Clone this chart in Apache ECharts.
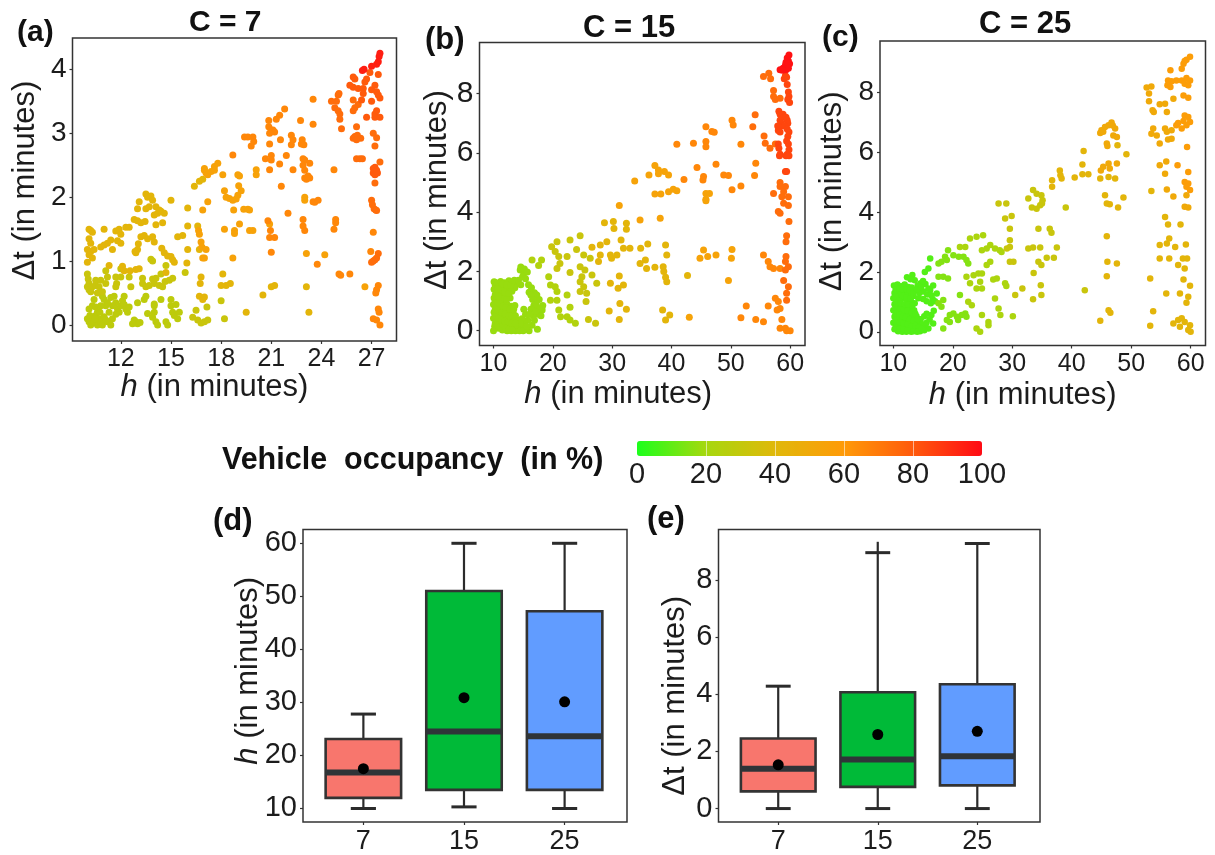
<!DOCTYPE html>
<html><head><meta charset="utf-8">
<script src="https://cdn.jsdelivr.net/npm/echarts@6/dist/echarts.min.js"></script>
<style>html,body{margin:0;padding:0;background:#fff}#c{width:1215px;height:855px}</style>
</head><body><div id="c"></div>
<script>
const a95=[[27.5,4.25],[27.45,4.2],[27.4,4.12],[27.3,4.08],[27,4.05],[26.55,4],[26.45,3.98]];
const a80=[[26.9,3.95],[27.4,3.92],[25.9,3.88],[26,3.85],[26.7,3.85],[26.6,3.8],[25.7,3.75],[25.9,3.72],[26.2,3.7],[26.5,3.7],[26.5,3.62],[27.2,3.75],[27,3.68],[27.3,3.65],[27.5,3.55],[27.4,3.6],[27.3,3.35],[27.2,3.3],[27.2,3.25],[27.5,3.25],[27,3.5],[26.7,3.25],[26.4,3.52],[27.2,2.47],[27.1,2.45],[27.3,2.42],[27.35,2.38],[27.1,2.38],[27.2,2.35],[27.3,2.4]];
const a74=[[24.6,3.5],[24.9,3.5],[25,3.6],[25.05,3.62],[24.8,3.4],[25,3.35],[25.1,3.3],[25.1,3.22],[25.2,3.07],[25.9,3.52],[26,3.4],[26.2,3.45],[25.9,3.35],[26.1,3.1],[26.35,2.92],[25.9,2.92],[26,2.95],[26.15,2.97],[26.1,2.9],[27.1,3],[27.3,2.93],[27.2,2.8],[26.1,2.6],[26.3,2.6],[26.45,2.6],[27.5,2.55],[27.2,2.22],[27,1.95],[27.05,1.88],[27.15,1.82],[27.25,1.8],[27.3,1.79],[27.4,1.12],[27.3,1.05],[27.2,1.02],[27.1,1],[27,0.98]];
const a66=[[24.75,2.43],[27.1,1.45],[26.95,1.15],[27.4,0.62],[27.3,0.55],[27.25,0.5],[27.4,0.25],[27.45,0.2],[27.1,0.1],[27.3,0.08],[27.5,0],[24.85,1.65],[24.85,1.6],[24.75,1.5],[25.05,0.8],[25.15,0.78],[25.7,0.8],[23.75,0.95],[23.5,3.53],[23.5,3.14],[22.75,3.2],[21.8,3.38],[21.5,3.28],[21.3,3.22],[20.85,3.2],[20.85,3.1],[21,3.05],[21.1,3.05],[21.2,3.02],[20.9,3],[22.2,2.97],[22.3,2.9],[21.55,2.9],[22.85,2.9],[22.8,2.83],[22.2,2.82],[22.95,2.82],[20.9,2.83],[21.9,2.65],[22.9,2.6],[23,2.58],[20.65,2.6],[21,2.65],[21,2.58],[20.9,2.43],[21.5,2.52],[22.3,2.43],[22.9,2.5],[23,2.42],[23.3,2.53],[23,2.3],[23.1,2.28],[23.3,2.3],[23.2,2.33],[21.6,2.17],[23.5,1.93],[23.6,1.92],[23.8,1.95],[22,1.75],[22.9,1.65],[22.9,1.55],[23,1.48],[20.8,1.63],[20.95,1.48],[20.9,1.37],[21.2,1.37],[21,1.14],[19.4,2.94],[19.6,2.94],[19.9,2.94],[19.95,2.87],[19.8,2.8],[18.7,2.66]];
const a55=[[26.6,0.6],[24.2,1.1],[23.1,1.12],[23,2],[23,1.95],[20.9,1.58],[20.1,2.43],[20.1,2.35],[19,2.35],[19.1,2.33],[19.05,2.18],[18.1,2.35],[18.2,2.1],[19.2,2.1],[19,2.03],[18.9,1.97],[18.3,2],[18.5,1.98],[18.7,1.95],[18.75,1.8],[19.35,1.81],[19.6,1.81],[19.7,1.8],[19.1,1.58],[18.2,1.5],[18.8,1.48],[18.8,1.43],[19.7,1.48],[19.9,1.48],[18.7,1.05],[17,2.45],[17,2.42],[17.1,2.38],[17.2,2.35],[17.4,2.4],[17.6,2.48],[17.8,2.53],[17.6,2.42],[16.9,1.8],[17.2,1.93],[16.65,1.48],[16.7,1.42],[16.8,1.3],[16.85,1.22],[17.1,1.18],[16.9,1.05],[17,1.05]];
const a42=[[23.1,0.6],[23.25,0.2],[21,0.6],[21.2,0.62],[20.5,0.47],[19.5,0.2],[18.1,0.8],[18.55,0.65],[18,0.62],[18.3,0.62],[16.4,2.17],[16.7,2.25],[16.9,2.28],[16,1.83],[16,1.55],[16.6,1.55],[16.7,1.18],[16,1.18],[15.95,0.97],[16.8,0.75],[16.75,0.65],[16.7,0.45],[16.9,0.4],[17,0.44],[10.1,1.5],[10.2,1.48],[10.3,1.45],[10.1,1.35],[10.2,1.28],[11,1.5],[11.7,1.47],[11.9,1.5],[12.3,1.53],[12.5,1.53],[12,1.42],[12.8,1.65],[13,1.63],[13.2,1.6],[13.45,1.62],[14,1.72],[14.2,1.75],[14.4,1.78],[14.6,1.75],[14.1,1.57],[14.5,1.6],[15,1.95],[13.1,1.93],[13,1.82],[13.5,1.82],[13.5,2.05],[13.6,2],[13.8,2.02],[13.9,1.95],[13.7,1.85],[14.1,1.85],[14.3,1.8],[10.2,1.15],[10.1,1.1],[10.3,1.05],[10,1.18],[10.4,1.18],[10,0.98],[10.8,1.22],[11,1.25],[11.2,1.28],[11.4,1.33],[11.8,1.32],[12,1.28],[11.5,1.18],[13.2,1.38],[13.4,1.4],[13.6,1.35],[13.9,1.38],[14,1.3],[13.05,1.27],[13,1.18],[12.9,1.13],[12.85,1.15],[14.45,1.2],[14.6,1.13],[14.8,1.08],[15,1.07],[15.1,1.02],[15.2,0.98],[15.4,1.38],[15.7,1.4],[11.3,0.93],[12.1,0.92],[12.2,0.85],[12.55,0.85],[12.9,0.87],[13.1,0.88],[14.7,0.82]];
const a32=[[18,0.38],[18.2,0.1],[17.15,0.28],[16.5,0.23],[16.3,0.12],[16.6,0.08],[16.8,0.03],[17,0.05],[17.2,0.08],[15.85,0.82],[13.8,1.03],[13.9,1],[10,0.8],[10.05,0.72],[10.1,0.65],[10,0.6],[10.1,0.55],[10.3,0.6],[10.5,0.62],[10.7,0.6],[10.2,0.52],[10.6,0.5],[10.9,0.52],[11.1,0.65],[11.2,0.75],[11.1,0.85],[12,0.88],[11.7,0.75],[11.75,0.65],[11.7,0.6],[12.6,0.6],[12,0.75],[12.5,0.75],[13.3,0.73],[13.3,0.65],[13.5,0.6],[13.7,0.62],[13.9,0.72],[14,0.65],[14.1,0.73],[14.3,0.62],[14.5,0.6],[14.65,0.68],[14.9,0.7],[15.1,0.73],[14.4,0.8],[14.7,0.93],[10.5,0.7],[10.8,0.7]];
const a28=[[10,0.1],[10.1,0.05],[10.2,0],[10.3,0.12],[10.4,0.05],[10.5,0.15],[10.6,0],[10.7,0.1],[10.8,0.05],[10.9,0],[11,0.13],[11.2,0.05],[11.4,0],[11.5,0.1],[10.1,0.25],[10.3,0.3],[10.5,0.28],[10.6,0.2],[11,0.4],[11.1,0.3],[11.2,0.35],[11.4,0.43],[11.6,0.45],[11.7,0.35],[11.8,0.25],[11.9,0.2],[12,0.3],[12.1,0.38],[12.2,0.32],[12.3,0.25],[12.4,0.2],[12.2,0.45],[11.7,0.17],[12.8,0.08],[12.9,0.05],[13,0.02],[12.7,0.02],[13.15,0.04],[13,0.35],[13.4,0.4],[13.6,0.18],[13.5,0.45],[14,0.3],[14,0.33],[14.4,0.4],[14,0.2],[13.9,0.12],[14.1,0.05],[14.2,0],[14.7,0.05],[14.8,0],[15,0.4],[15,0.3],[15.1,0.2],[15.2,0.15],[15.3,0.32],[15.4,0.1],[15.5,0.2],[10.15,0.15],[10.45,0.1],[10.75,0.2],[11.1,0.08],[11.3,0.2],[10.8,0.3],[10.4,0.4],[10.9,0.45],[12.5,0.28],[11.5,0.3]];

// ---- panel (b) C = 15
const b98=[[59.8,9.3],[59.5,9.2],[59.7,9.1],[59.3,9.05],[59.9,9],[59.2,8.95],[59.6,9],[58.8,8.85],[59.3,8.8],[59.7,8.85],[58.3,8.8],[58.7,8.78]];
const b85=[[59,8.5],[59.2,8.6],[59.4,8.55],[59.5,8.3],[59.7,8.05],[59.8,7.9],[59.6,7.8],[59.9,7.7],[58.1,7.4],[58.3,7.3],[58.5,7.25],[58.8,7.3],[59,7.2],[59.3,7.2],[59.5,7.1],[59.6,7],[58.3,7.1],[58.5,7],[58.4,6.9],[59,6.9],[59.5,6.8],[59.8,6.7],[59.6,6.55],[59.4,6.4],[59.7,6.3],[59.8,6.1],[59.5,5.95],[59.3,5.9],[59.8,5.9],[58.2,5.9],[58,6.3],[58.1,6.15],[57.9,6.9],[58,6.75],[58.3,6.7],[58.3,5.95],[59.2,5.37],[59.4,5.37]];
const b74=[[55.5,8.57],[56.4,8.68],[56.7,8.5],[57.2,7.9],[57.5,7.8],[58.3,7.84],[57.2,8.1],[54.1,7.28],[53.7,6.88],[55.6,6.57],[55.8,6.32],[56.6,6.15],[57.5,6.3],[58.3,5],[59.2,4.86],[58.3,4.86],[58.9,4.69],[57.2,4.63],[58.6,4.52],[59.7,4.52],[58.9,4.3],[59.7,4.22],[58,4.02],[58.3,3.96],[59.8,3.68],[59.4,3.2],[59.3,3],[59.3,2.5],[59.2,2.33],[59.7,2.16],[59.2,2.05],[59.7,1.48],[59.4,1.26],[59.4,1.03],[58.9,1.69]];
const b66=[[54.2,5.65],[54,5.23],[51.7,4.88],[50.2,4.75],[51.7,6.29],[50.2,7.1],[50.4,6.94],[55.5,2.55],[56.3,2.33],[56.6,2.16],[57.2,2.1],[58.3,2.1],[57.5,1.09],[58,0.98],[58.3,0.75],[57.8,0.7],[56.3,0.83],[52.6,0.83],[51.7,0.44],[54.2,0.38],[55.5,0.3],[58.6,0.38],[58.3,0.08],[59.2,0.08],[60,0],[59.4,0],[45.8,6.88],[46.8,6.72],[47.2,6.69],[43.7,6.32],[40.9,6.29],[45.8,6.38],[45.8,6.2],[44.3,5.5],[47.5,5.61],[45.4,5.2],[45.3,5.08],[48.8,5.25],[49.6,5.23],[42.1,5.1]];
const b54=[[33.8,5.05],[37.2,5.57],[37.8,5.42],[38.8,5.37],[36.2,5.25],[37.8,5.29],[39.5,5.25],[37.2,4.61],[38.2,4.61],[39.5,4.69],[40.3,4.77],[40.9,4.72],[45.8,4.63],[46.4,4.63],[45.8,4.43],[45.8,4.38],[31.2,4.22],[38.1,3.79],[34.7,3.73],[50.2,2.74],[50.1,2.44],[47.5,2.55],[45.4,2.72],[44.8,2.44],[46.1,2.5],[49.6,1.69],[43,0.45]];
const b42=[[28.7,3.64],[30.2,3.68],[30.3,3.45],[32.4,3.62],[32.4,3.42],[31.5,3.06],[29.1,3],[28,2.89],[26.6,2.81],[28,2.55],[29.7,2.55],[30.8,2.55],[29.9,2.44],[27.7,2.33],[31.9,2.78],[33,2.78],[34.8,2.78],[36,2.92],[39,2.89],[39.2,2.55],[34.7,2.27],[35.6,2.38],[35.8,2.1],[37.2,2.14],[38.6,2.16],[38.7,2],[39,1.8],[39.2,1.65],[42.7,1.86],[31.2,1.84],[31.9,1.54],[31,1.43],[29.7,1.6],[38.5,0.7],[39.7,0.53],[39,0.36],[31.3,0.92],[32.4,0.72],[31.2,0.38],[29.5,0.66]];
const b32=[[24.6,3.2],[22.9,3.06],[20.7,3],[19.8,2.83],[20.4,2.67],[24,2.74],[25.2,2.55],[22.4,2.5],[21,2.5],[26.3,2.44],[27.4,1.6],[26.6,1.88],[25.4,2.05],[24.6,2.16],[24.9,1.82],[24.6,1.65],[25.2,1.48],[24.6,1.32],[25.7,1.26],[25.6,0.98],[22.9,1.96],[21.2,2.27],[20.7,2.1],[27.2,0.25],[26,0.38]];
const b24=[[16.5,2.38],[18.1,2.38],[17.6,2.2],[19.3,1.82],[19.6,1.54],[20.4,1.48],[20.7,1.32],[22.4,1.2],[19.6,1.03],[20.7,1.03],[22.9,0.79],[21,0.7],[21.3,0.47],[22.4,0.47],[22.9,0.36],[23.8,0.25]];
const b18=[[14.5,2.05],[15.1,1.93],[14.6,2.15],[15.2,2.08],[15.7,1.98],[14.9,1.82],[15.9,1.55],[16.4,1.45],[16.9,1.28],[17.3,1.2],[17.7,1.05],[18.3,0.85],[18.2,0.7],[17.4,0.72],[16.8,0.85],[17.5,0.55],[16.7,0.5],[16.3,0.72],[18,0.5],[15.8,0.35],[16.5,0.18],[17.4,0.05],[16,0],[15.5,0.1],[15.2,0.32],[15.4,0.55],[13.8,1.62],[13.3,1.6],[12.6,1.68],[11.9,1.62],[11.2,1.66],[10.4,1.62],[10.9,1.48],[11.7,1.42],[12.4,1.45],[13.1,1.33],[13.6,1.45],[10.1,1.4],[10.6,1.28],[11.3,1.22],[12,1.18],[12.8,1.1],[10.1,1.1],[10.8,1.02],[11.6,0.95],[12.3,0.88],[13,0.82],[13.6,0.85],[10,0.88],[10.5,0.8],[11.2,0.75],[11.9,0.7],[12.6,0.62],[13.3,0.6],[10.1,0.62],[10.8,0.55],[11.5,0.48],[12.2,0.42],[12.9,0.4],[13.6,0.38],[14.2,0.35],[14.8,0.4],[10,0.42],[10.6,0.32],[11.3,0.25],[12,0.18],[12.7,0.2],[13.4,0.15],[14,0.12],[14.7,0.15],[10.2,0.15],[10.8,0.08],[11.5,0.02],[12.3,0],[13,0],[13.7,0],[14.4,0],[15,0],[10,0],[11,0.35],[12.5,0.78],[11.4,1.08],[10.3,0.98],[10.3,0.25],[10.7,0.18],[11.1,0.12],[11.6,0.2],[12.1,0.08],[12.6,0.05],[13.2,0.07],[13.9,0.2],[14.5,0.25],[10.4,0.52],[10.9,0.42],[11.4,0.36],[11.9,0.32],[12.5,0.3],[13.1,0.25],[13.7,0.25],[10.3,0.72],[10.8,0.68],[11.4,0.62],[12,0.55],[12.6,0.5],[13.1,0.52],[13.7,0.5],[10.5,0.95],[11,0.92],[11.6,0.82],[12.1,0.78],[12.8,0.72],[13.4,0.72],[10.3,1.22],[10.8,1.15],[11.3,1.38],[11.9,1.3],[12.6,1.25],[10.3,1.52],[10.7,1.4],[11.5,1.58],[12.2,1.55],[12.9,1.52],[13.5,1.7],[14.2,1.7],[14.6,1.55],[15.4,1.75],[16,1.3],[16.3,1.2],[16.6,1.05],[17.2,0.9],[17.8,0.75],[16.1,0.55],[16.9,0.35],[17.1,0.65],[15.6,0.15],[15.1,0.72],[10.1,1.65],[12.2,1.05]];

// ---- panel (c) C = 25
const c58=[[59.9,9.2],[59.3,9.1],[58.8,8.97],[59,9.06],[58.5,8.8],[59.3,8.49],[59.9,8.41],[57.6,8.41],[58.5,8.41],[59,8.3],[59.6,8.25],[58.8,7.91],[59.6,7.83],[59,7.24],[59.6,7.19],[58.8,7.05],[57.9,6.99],[59.9,7.02],[59.3,6.91],[57.6,6.91],[58.5,6.8],[56.6,8.75],[56.2,8.41],[56.8,8.38],[56.1,8.25],[56.6,8.19],[59.4,6.18],[59,5.01],[59.6,4.96],[59.3,4.85],[59.9,4.74],[57.8,5.57],[59.6,5.35]];
const c50=[[52.6,8.17],[53.4,8.21],[53,7.97],[53,7.71],[57.1,7.8],[55.7,7.63],[54.8,7.61],[53.6,7.41],[53.8,7.35],[56,7.35],[55.7,6.8],[53.7,6.8],[54.3,6.57],[56,6.69],[56.8,6.74],[53.4,6.63],[56.2,6.43],[56.8,6.46],[54.8,6.3],[54.8,5.57],[55.9,5.7],[55.7,5.29],[56,4.76],[57.1,4.53],[59.3,4.57],[59,4.18],[59.6,4.16],[46.7,7],[46.2,6.91],[45.6,6.85],[45,6.74],[44.8,6.65],[45.3,6.69],[46.9,6.9],[47.3,6.8],[47,6.57],[47.6,6.52],[45.9,6.3],[46,6.22],[45.3,5.52],[44.9,5.4],[46.2,5.63],[46.4,5.46],[47.6,5.63]];
const c42=[[53.4,4.71],[55.7,3.84],[56.2,3.59],[58.3,3.59],[54.8,2.9],[56,2.95],[56.4,3.12],[57.4,2.84],[59.2,2.92],[54.8,2.45],[56.4,2.45],[58.7,2.45],[59.4,2.45],[57.9,2.23],[59,2.12],[58.8,1.75],[53.2,1.78],[59.9,1.54],[55.9,1.28],[58.2,1.28],[59.6,1.17],[59.3,0.97],[53.7,0.69],[53.2,0.2],[57.1,0.28],[57.9,0.39],[58.5,0.45],[59,0.33],[58.2,0.17],[59.9,0.22],[59.6,0.06],[60,0],[47.7,6.24],[49.2,5.94],[42,6.05],[41.8,5.6],[41.8,5.27],[42.8,5.27],[40.5,5.16],[44.8,5.13],[46.2,5.18],[47.3,5.13],[45.6,4.57],[45.9,4.29],[46.4,4.27],[47.8,4.16],[48.7,4.49],[45.9,3.2],[46,2.34],[47.6,2.28],[45.9,1.86],[46.2,0.72],[46.5,0.64],[44.8,0.37],[38,5.4],[38.1,5.24],[38.3,5.13],[36.7,5.07],[36.7,4.85]];
const c32=[[39,4.16],[42.2,1.39],[33.5,4.74],[34.1,4.62],[34.9,4.57],[35.1,4.4],[32.7,4.46],[33.3,4.16],[34.1,4.12],[34.7,4.23],[35,4.29],[27.7,4.29],[29,4.29],[28.8,3.79],[29.9,3.87],[29.6,3.45],[29.6,3.06],[34.4,3.45],[36.3,3.45],[36.6,3.31],[32.7,2.79],[33.5,2.82],[34.7,2.82],[37.5,2.82],[35.8,2.48],[37,2.48],[34.4,2.34],[34.9,2.23],[33.6,1.97],[34.8,1.56],[31.7,1.45],[30.5,1.23],[34.9,1.23],[33.5,1.09],[29.6,2.84],[29.1,2.79],[30.2,2.34],[29.6,2.34]];
const c22=[[26.3,2.9],[27.1,2.79],[27.9,2.73],[28.2,2.67],[25.1,3.23],[24,3.18],[22.9,3.12],[24.9,2.73],[25.7,2.79],[26.3,2.34],[25.7,2.23],[22.1,2.84],[21.2,2.84],[22.3,1.84],[23.5,1.89],[24.3,1.95],[24.9,1.95],[22.9,1.62],[24.6,1.67],[24,1.45],[24.9,1.45],[26.8,1.75],[27.4,1.78],[28.8,1.62],[29,1.53],[27.1,1.11],[27.7,0.78],[28,0.56],[30.1,0.52],[24.9,0.56],[26,0.33],[26,0.22],[24,0.11],[24.6,0],[22.6,1],[23.2,0.89]];
const c15=[[19.2,2.73],[20.1,2.56],[18.7,2.51],[21,2.51],[21.8,2.51],[22.3,2.4],[22.6,2.28],[18.1,2.34],[17.6,2.28],[19,2.4],[21.2,1.23],[19.5,0.56],[20.1,0.61],[20.7,0.5],[19,0.39],[19.5,0.33],[18.4,0.11],[21.5,0.56],[22.1,0.61],[22.3,0.5],[20.9,0.39],[18.4,1.84],[19.2,1.78],[17.6,1.84],[18.4,1.06],[17.6,0.95],[18.1,0.84]];
const c8=[[16.2,2.45],[15.9,2.12],[15.3,2],[17.3,1.28],[16.7,0.28],[16.4,0.56],[15.9,0.11],[15.3,0.22],[13.2,1.9],[12.3,1.82],[13.6,1.72],[12.9,1.76],[14.6,1.62],[15.4,1.6],[14.1,1.55],[10.1,1.55],[10.7,1.58],[11.3,1.52],[11.9,1.58],[12.5,1.5],[13.1,1.48],[13.7,1.38],[14.4,1.3],[15.1,1.35],[15.7,1.25],[16.2,1.4],[16.6,1.1],[16.3,0.95],[15.6,1.02],[15,1.1],[14.2,1.12],[13.4,1.2],[12.7,1.25],[12,1.32],[11.4,1.3],[10.8,1.36],[10.2,1.3],[10,1.12],[10.6,1.1],[11.2,1.08],[11.8,1.12],[12.4,1.02],[13,1],[13.6,0.95],[10.2,0.92],[10.9,0.88],[11.6,0.85],[12.2,0.8],[12.9,0.78],[13.5,0.72],[10,0.72],[10.6,0.68],[11.3,0.62],[11.9,0.6],[12.6,0.55],[13.2,0.5],[13.9,0.52],[14.6,0.42],[15.2,0.52],[10.2,0.5],[10.9,0.45],[11.5,0.4],[12.2,0.36],[12.9,0.3],[13.5,0.28],[14.1,0.3],[14.9,0.25],[10,0.3],[10.6,0.25],[11.2,0.2],[11.8,0.18],[12.5,0.12],[13.2,0.08],[13.9,0.1],[14.5,0.02],[10.2,0.08],[10.8,0.02],[11.5,0],[12.2,0],[13,0],[11.1,1.2],[12.3,0.62],[15.6,0.6],[10.4,1.42],[11,1.45],[11.6,1.42],[12.2,1.42],[12.8,1.38],[13.4,1.3],[14,1.42],[14.7,1.5],[10.4,1.18],[11,1.05],[11.6,1.2],[12.2,1.15],[12.9,1.12],[10.5,0.98],[11.2,0.95],[11.9,0.92],[12.5,0.9],[13.2,0.88],[10.4,0.8],[11.1,0.75],[11.7,0.72],[12.4,0.7],[13.1,0.65],[13.7,0.6],[10.4,0.62],[11,0.58],[11.6,0.52],[12.1,0.48],[12.8,0.42],[13.4,0.38],[14.1,0.42],[10.4,0.38],[11.1,0.32],[11.7,0.28],[12.4,0.24],[13,0.18],[13.7,0.2],[14.3,0.15],[10.4,0.15],[11,0.1],[11.7,0.08],[12.4,0.05],[13.4,0.02],[14,0],[15.2,0.05],[14.8,0.1],[15.9,1.45],[16.7,1.55],[15,1.7],[15.6,0.3],[16.1,0.42],[16.8,0.7],[17,1.02],[16.4,1.22]];

// ---- box plots
const boxCategories=['7','15','25'];
const boxFill=['#F8766D','#00BA38','#619CFF'];
const hLow=[10,10.3,10], hQ1=[12,13.5,13.5], hMedian=[16.8,24.5,23.6], hQ3=[23.1,51,47.2], hHigh=[27.8,60,60], hMean=[17.5,30.9,30.1];
const dLow=[0,0,0], dQ1=[0.6,0.76,0.81], dMedian=[1.39,1.72,1.83], dQ3=[2.45,4.07,4.35], dHigh=[4.28,8.95,9.27], dLineTop=[4.28,9.33,9.27], dMean=[1.53,2.59,2.7];

// ---- tick labels
const ticksAx=[12,15,18,21,24,27], ticksAy=[0,1,2,3,4];
const ticksBCx=[10,20,30,40,50,60], ticksBCy=[0,2,4,6,8];
const ticksDy=[10,20,30,40,50,60], ticksEy=[0,2,4,6,8];
const ticksBar=[0,20,40,60,80,100], ticksBarInner=[20,40,60,80];
const occupancyStops=['#1cff1c','#a6d80e','#e0b80a','#ff9a08','#ff5a0c','#ff0a14'];

const FONT='"Liberation Sans", Arial, sans-serif', INK='#1c1c1c', LINE='#333';
const withOcc=(occ,pts)=>pts.map(p=>[p[0],p[1],occ]);
const pointsA=[].concat(withOcc(28,a28),withOcc(32,a32),withOcc(42,a42),withOcc(55,a55),withOcc(66,a66),withOcc(74,a74),withOcc(80,a80),withOcc(95,a95));
const pointsB=[].concat(withOcc(18,b18),withOcc(24,b24),withOcc(32,b32),withOcc(42,b42),withOcc(54,b54),withOcc(66,b66),withOcc(74,b74),withOcc(85,b85),withOcc(98,b98));
const pointsC=[].concat(withOcc(8,c8),withOcc(15,c15),withOcc(22,c22),withOcc(32,c32),withOcc(42,c42),withOcc(50,c50),withOcc(58,c58));

const grids=[
 {left:72.5,top:38,width:324,height:303},
 {left:479.5,top:42.5,width:325.5,height:303},
 {left:880,top:41,width:325.5,height:304.5},
 {left:303,top:529.5,width:324,height:296.5},
 {left:718.5,top:529.5,width:321.5,height:295},
 {left:637,top:441,width:345,height:15}
].map((g,i)=>Object.assign(g,i<5?{show:true,borderColor:LINE,borderWidth:1.5,backgroundColor:'#fff'}:{}));

function valAxis(idx,min,max,ticks,size,name,gap,pad,fmt){
  return {type:'value',gridIndex:idx,min,max,
    splitLine:{show:false},axisLine:{show:false,onZero:false},
    axisTick:{length:3,lineStyle:{color:LINE,width:1.2},customValues:ticks},
    axisLabel:{fontFamily:FONT,fontSize:size,color:INK,margin:6,customValues:ticks,formatter:fmt||(v=>String(v)),hideOverlap:false},
    name,nameLocation:'middle',nameGap:gap,nameMoveOverlap:false,
    nameTextStyle:{fontFamily:FONT,fontSize:31,color:INK,padding:pad,rich:{i:{fontFamily:FONT,fontSize:31,fontStyle:'italic',color:INK}}}};
}
const H='{i|h} (in minutes)', DT='Δt (in minutes)';
const xAxis=[
 valAxis(0,9.11,28.49,ticksAx,25,H,31,[0,40,0,0]),
 valAxis(1,7.64,62.5,ticksBCx,25,H,33,[0,48,0,0]),
 valAxis(2,7.76,62.5,ticksBCx,25,H,34,[0,40,0,0]),
 valAxis(3,0.4,3.62,[1,2,3],27,'',0,0,v=>boxCategories[v-1]),
 valAxis(4,0.4,3.63,[1,2,3],27,'',0,0,v=>boxCategories[v-1]),
 {type:'value',gridIndex:5,min:0,max:100,z:10,splitLine:{show:false},axisLine:{show:false,onZero:false},
  axisTick:{inside:true,length:15,lineStyle:{color:'rgba(255,255,255,0.55)',width:1},customValues:ticksBarInner},
  axisLabel:{fontFamily:FONT,fontSize:29,color:INK,margin:4,customValues:ticksBar,formatter:v=>String(v)}}
];
const yAxis=[
 valAxis(0,-0.25,4.49,ticksAy,28,DT,32,[0,0,0,18]),
 valAxis(1,-0.5,9.72,ticksBCy,30,DT,27,[0,0,0,8]),
 valAxis(2,-0.46,9.73,ticksBCy,28,DT,32,[0,0,0,4]),
 valAxis(3,7.45,62.6,ticksDy,29,H,39,[0,0,0,10]),
 valAxis(4,-0.47,9.76,ticksEy,29,DT,28,[0,40,0,0]),
 {type:'value',gridIndex:5,min:0,max:1,show:false}
];

function scatter(i,data,size){return {type:'scatter',xAxisIndex:i,yAxisIndex:i,data,symbolSize:size,encode:{x:0,y:1},silent:true,animation:false,itemStyle:{opacity:1}};}
function boxRows(low,q1,med,q3,high,top){return boxCategories.map((_,i)=>[i+1,low[i],q1[i],med[i],q3[i],high[i],top[i]]);}
function renderBox(params,api){
  const x=api.value(0),low=api.value(1),q1=api.value(2),med=api.value(3),q3=api.value(4),hi=api.value(5),top=api.value(6);
  const P=(a,b)=>api.coord([a,b]);
  const line=(a,b,w,c)=>({type:'line',shape:{x1:a[0],y1:a[1],x2:b[0],y2:b[1]},style:{stroke:c||'#2b2b2b',lineWidth:w}});
  const bw=0.375,cw=0.125;
  const tl=P(x-bw,q3),br=P(x+bw,q1);
  return {type:'group',children:[
    line(P(x,top),P(x,q3),2.2),
    line(P(x,q1),P(x,low),2.2),
    line(P(x-cw,hi),P(x+cw,hi),3),
    line(P(x-cw,low),P(x+cw,low),3),
    {type:'rect',shape:{x:tl[0],y:tl[1],width:br[0]-tl[0],height:br[1]-tl[1]},style:{fill:boxFill[x-1],stroke:'#333',lineWidth:2.6}},
    line(P(x-bw,med),P(x+bw,med),6,'#2f3438')
  ]};
}
function box(i,rows){return {type:'custom',xAxisIndex:i,yAxisIndex:i,data:rows,renderItem:renderBox,encode:{x:0,y:[1,2,3,4,5,6]},silent:true,animation:false,clip:false,z:2};}
function means(i,vals){return {type:'scatter',xAxisIndex:i,yAxisIndex:i,data:vals.map((v,k)=>[k+1,v]),symbolSize:11,silent:true,animation:false,z:5,itemStyle:{color:'#000',opacity:1}};}

const titleOf=(text,left,top,size)=>({text,left,top,padding:0,textStyle:{fontFamily:FONT,fontWeight:'bold',fontSize:size,color:'#111'}});
const option={
 animation:false,backgroundColor:'#fff',
 title:[
  titleOf('C = 7',189,8,30),titleOf('C = 15',583,13,31),titleOf('C = 25',979,9,31),
  titleOf('(a)',17,18,30),titleOf('(b)',425,25,31),titleOf('(c)',822,23,30),
  titleOf('(d)',213,506,31),titleOf('(e)',647,504,31),
  titleOf('Vehicle  occupancy  (in %)',222,445,30.5)
 ],
 grid:grids,xAxis,yAxis,
 visualMap:[{type:'continuous',seriesIndex:[0,1,2],dimension:2,min:0,max:100,orient:'horizontal',left:637,top:441,itemWidth:15,itemHeight:345,padding:0,calculable:false,showLabel:false,text:null,realtime:false,inRange:{color:occupancyStops},z:4}],
 series:[
  scatter(0,pointsA,7),scatter(1,pointsB,7),scatter(2,pointsC,6.5),
  box(3,boxRows(hLow,hQ1,hMedian,hQ3,hHigh,hHigh)),
  box(4,boxRows(dLow,dQ1,dMedian,dQ3,dHigh,dLineTop)),
  means(3,hMean),means(4,dMean)
 ]
};
const chart=echarts.init(document.getElementById('c'),null,{renderer:'canvas'});
chart.setOption(option);
</script></body></html>
